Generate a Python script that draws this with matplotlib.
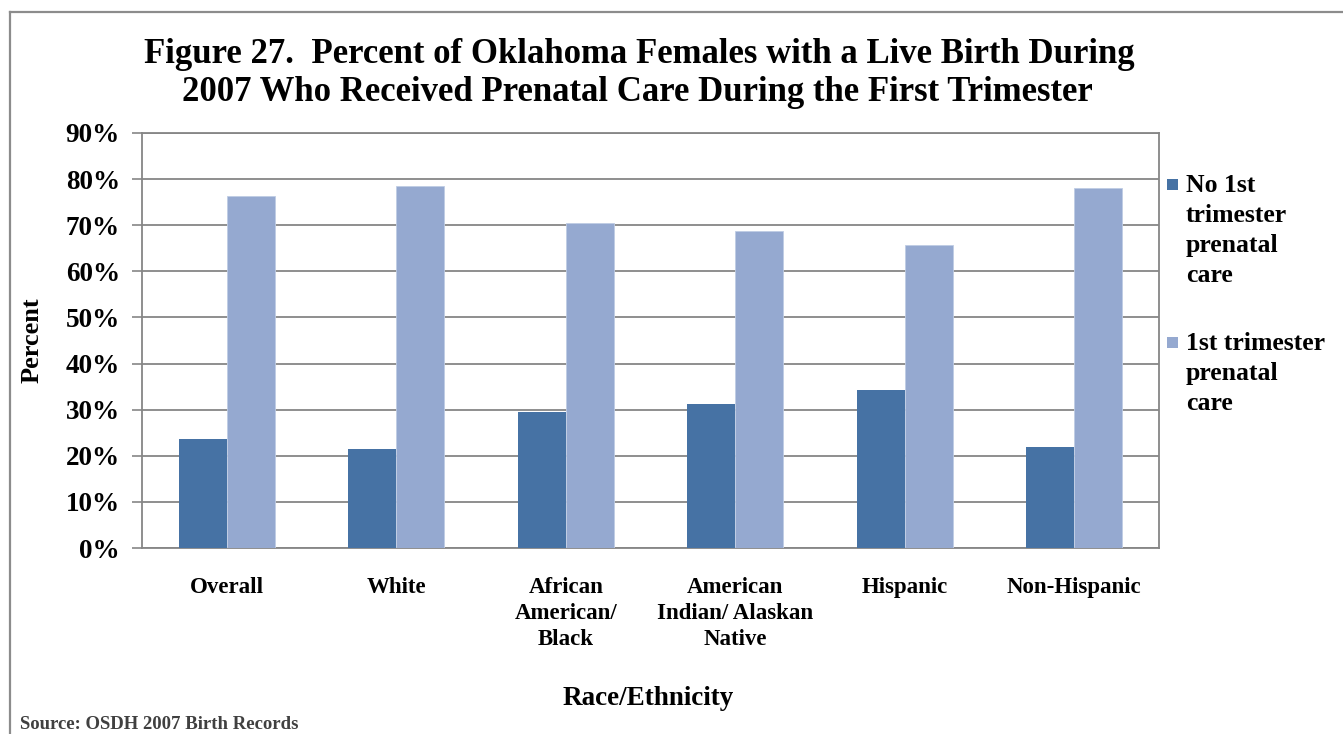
import matplotlib
matplotlib.use("Agg")
import matplotlib.pyplot as plt
import numpy as np
from matplotlib.lines import Line2D
from matplotlib.patches import Rectangle

# ---- data ----
categories = ["Overall", "White", "African\nAmerican/\nBlack", "American\nIndian/ Alaskan\nNative",
              "Hispanic", "Non-Hispanic"]
no_first = [23.6, 21.5, 29.4, 31.3, 34.3, 21.9]
first_tri = [76.4, 78.4, 70.4, 68.7, 65.7, 78.1]
series_names = ["No 1st\ntrimester\nprenatal\ncare", "1st trimester\nprenatal\ncare"]
yticks = [0, 10, 20, 30, 40, 50, 60, 70, 80, 90]
ytick_labels = [f"{v}%" for v in yticks]

plt.rcParams['font.family'] = ['Liberation Serif', 'DejaVu Serif']
plt.rcParams['font.weight'] = 'bold'

W, H = 1343, 734
fig = plt.figure(figsize=(W / 100, H / 100), dpi=100)

def fx(px):
    return px / W

def fy(py):
    return 1 - py / H

left, right, top, bottom = 142, 1159, 133, 548
ax = fig.add_axes([fx(left), fy(bottom), fx(right - left), (bottom - top) / H])

dark = "#4672A4"
light = "#95A9D0"
grid_c = "#868686"

x = np.arange(len(categories))
bw = 0.283
ax.bar(x - bw / 2, no_first, width=bw, color=dark, zorder=3)
ax.bar(x + bw / 2, first_tri, width=bw, color=light, edgecolor="#BFCCE4", linewidth=0.6, zorder=3)

ax.set_xlim(-0.5, len(categories) - 0.5)
ax.set_ylim(0, 90)
ax.set_yticks(yticks)
ax.set_yticklabels(ytick_labels, fontsize=19.5, fontweight='bold')
ax.set_xticks(x)
ax.set_xticklabels(categories, fontsize=16.5, fontweight='bold', linespacing=1.32)
ax.tick_params(axis='x', length=0, pad=21)
ax.tick_params(axis='y', length=7, width=1.2, color=grid_c, pad=9)
ax.yaxis.grid(True, color=grid_c, linewidth=1.3, zorder=0)
ax.set_axisbelow(True)
for s in ax.spines.values():
    s.set_color(grid_c)
    s.set_linewidth(1.3)
for lab in ax.get_xticklabels():
    lab.set_verticalalignment('top')

ax.set_ylabel("Percent", fontsize=19, fontweight='bold')
ax.yaxis.label.set_va('center')
ax.yaxis.set_label_coords((32 - left) / (right - left), 0.5)

# x axis title
fig.text(fx(648), fy(705), "Race/Ethnicity", fontsize=19.5, fontweight='bold',
         ha='center', va='baseline')

# title
fig.text(fx(639), fy(63), "Figure 27.  Percent of Oklahoma Females with a Live Birth During",
         fontsize=25, fontweight='bold', ha='center', va='baseline')
fig.text(fx(637), fy(101), "2007 Who Received Prenatal Care During the First Trimester",
         fontsize=25, fontweight='bold', ha='center', va='baseline')

# legend (manual)
leg_colors = [dark, light]
leg_y = [192, 350]
for name, c, yy in zip(series_names, leg_colors, leg_y):
    lines = name.split("\n")
    for i, ln in enumerate(lines):
        fig.text(fx(1186), fy(yy + i * 30), ln, fontsize=18.5, fontweight='bold',
                 ha='left', va='baseline')
    fig.add_artist(Rectangle((fx(1167), fy(yy - 2)), fx(11), 11 / H, transform=fig.transFigure,
                             facecolor=c, edgecolor='none'))

# source
fig.text(fx(20), fy(729), "Source: OSDH 2007 Birth Records", fontsize=13.5, fontweight='bold',
         color="#404040", ha='left', va='baseline')

# outer frame lines
fig.add_artist(Line2D([fx(10), fx(10)], [fy(12), 0], transform=fig.transFigure,
                      color="#8c8c8c", linewidth=1.6))
fig.add_artist(Line2D([fx(10), 1], [fy(12), fy(12)], transform=fig.transFigure,
                      color="#8c8c8c", linewidth=1.6))

fig.savefig("out.png", dpi=100)
